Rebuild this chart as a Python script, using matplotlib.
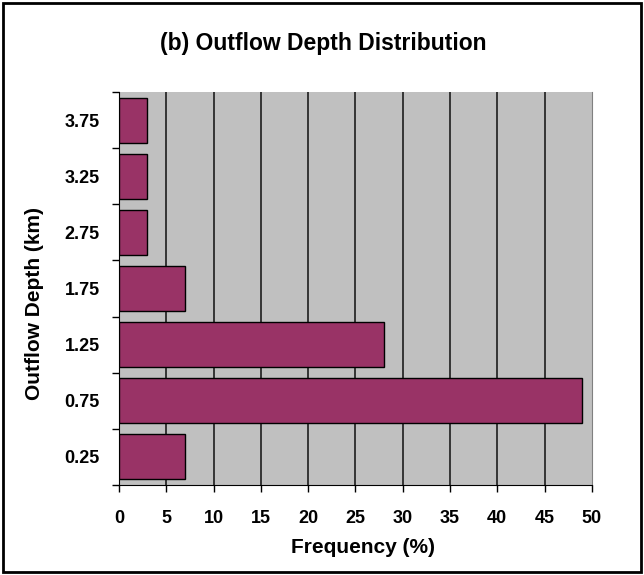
import matplotlib
matplotlib.use("Agg")
import matplotlib.pyplot as plt
from matplotlib.patches import Rectangle

depths = ["0.25", "0.75", "1.25", "1.75", "2.75", "3.25", "3.75"]
freq = [7, 49, 28, 7, 3, 3, 3]
xticks = [0, 5, 10, 15, 20, 25, 30, 35, 40, 45, 50]

plt.rcParams['font.family'] = ['Liberation Sans', 'DejaVu Sans']
plt.rcParams['font.weight'] = 'bold'

fig = plt.figure(figsize=(6.44, 5.75), dpi=100)
ax = fig.add_axes([0.1848, 0.1565, 0.7342, 0.6835])
ax.set_facecolor("#c0c0c0")

pos = list(range(len(depths)))
ax.barh(pos, freq, height=0.8, color="#993366", edgecolor="black", linewidth=1, zorder=3)

ax.set_xlim(0, 50)
ax.set_ylim(-0.5, len(depths) - 0.5)
ax.set_xticks(xticks)
ax.set_xticklabels([str(x) for x in xticks], fontsize=13, fontweight='bold')
for x in xticks[1:-1]:
    ax.axvline(x, color="#2a2a2a", linewidth=1.3, zorder=1)

# category labels in the middle, tick marks between categories
ax.set_yticks(pos)
ax.set_yticklabels(depths, fontsize=13, fontweight='bold')
ax.tick_params(axis='y', length=0, pad=14)
ax.set_yticks([p - 0.5 for p in pos] + [len(depths) - 0.5], minor=True)
ax.tick_params(axis='y', which='minor', length=5, width=1, direction='out')
ax.tick_params(axis='x', length=5, width=1, direction='out', pad=13)

ax.spines['top'].set_visible(False)
ax.spines['right'].set_color("#808080")
ax.spines['left'].set_color("black")
ax.spines['bottom'].set_color("black")

ax.set_xlabel("Frequency (%)", fontsize=15, fontweight='bold')
ax.xaxis.set_label_coords(0.515, -0.16)
ax.xaxis.label.set_va('center')
ax.set_ylabel("Outflow Depth (km)", fontsize=15, fontweight='bold')
ax.yaxis.set_label_coords(-0.178, 0.463)
ax.yaxis.label.set_va('center')
fig.text(0.502, 0.925, "(b) Outflow Depth Distribution", ha='center', va='center',
         fontsize=16.5, fontweight='bold')

fig.patches.append(Rectangle((0.005, 0.006), 0.99, 0.988, transform=fig.transFigure,
                             fill=False, edgecolor='black', linewidth=2))

fig.savefig("out.png", dpi=100)
